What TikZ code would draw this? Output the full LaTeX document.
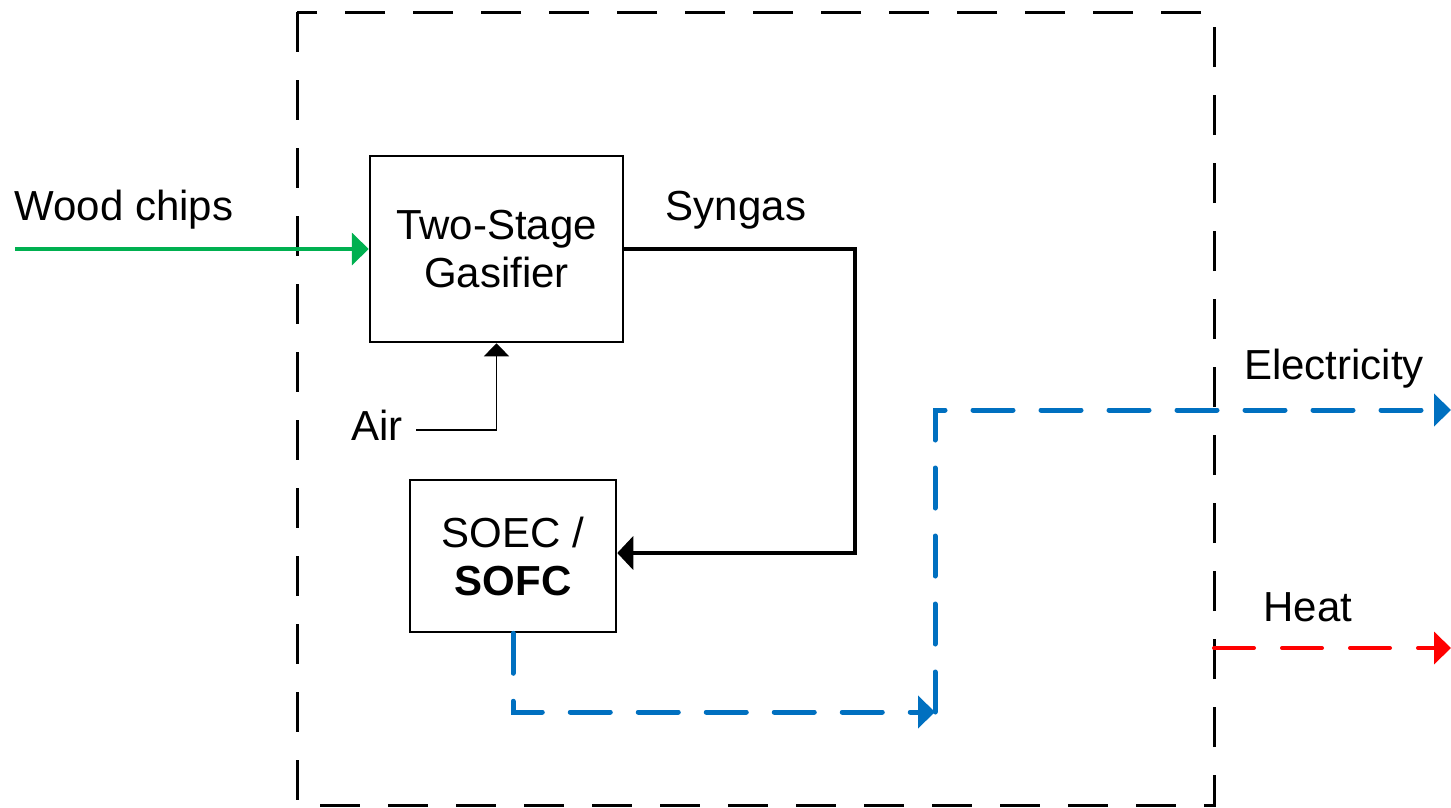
\documentclass[tikz,border=0pt]{standalone}
\usepackage{fontspec}
\setmainfont{Liberation Sans}
\usetikzlibrary{arrows.meta}
\definecolor{cgreen}{HTML}{00B050}
\definecolor{cblue}{HTML}{0070C0}
\definecolor{cred}{HTML}{FF0000}
\begin{document}
\begin{tikzpicture}[x=1pt,y=-1pt,
  every node/.style={font=\fontsize{42pt}{50pt}\selectfont, inner sep=0pt},
  procbox/.style={draw, line width=2.5pt, align=center},
  lbl/.style={anchor=center},
  boundary/.style={draw, line width=3pt, dash pattern=on 40pt off 28pt},
  woodflow/.style={draw=cgreen, line width=4pt, -{Triangle[length=17pt,width=32pt]}},
  synflow/.style={draw=black, line width=4pt, -{Triangle[length=16pt,width=33pt]}},
  airflow/.style={draw=black, line width=1.3pt, -{Triangle[length=13pt,width=25pt]}},
  elecflow/.style={draw=cblue, line width=5pt, line cap=round, dash pattern=on 40pt off 28pt, -{Triangle[length=17pt,width=32pt]}},
  heatflow/.style={draw=cred, line width=4pt, line cap=round, dash pattern=on 40pt off 28pt, -{Triangle[length=17pt,width=32pt]}}
]
\useasboundingbox (0,0) rectangle (1451,807);
\fill[white] (0,0) rectangle (1451,807);
% system boundary
\draw[boundary] (297,12) rectangle (1214,805);
% process boxes
\node[procbox, minimum width=253pt, minimum height=186pt] (gas) at (496.5,249) {Two-Stage\\[-2pt]Gasifier};
\node[procbox, minimum width=206pt, minimum height=152pt] (sofc) at (513,556) {SOEC /\\[-2pt]\textbf{SOFC}};
% labels
\node[lbl] (wood) at (124,210) {Wood chips};
\node[lbl] (syn) at (736,210) {Syngas};
\node[lbl] (air) at (377,425) {Air};
\node[lbl] (elec) at (1334,369) {Electricity};
\node[lbl] (heat) at (1308,607) {Heat};
% coordinates
\coordinate (w0) at (15,249);
\coordinate (s1) at (855,249);
\coordinate (s2) at (855,553);
\coordinate (a0) at (416,430);
\coordinate (b1) at (935,712);
\coordinate (b2) at (935,410);
\coordinate (e1) at (1451,410);
\coordinate (h0) at (1214,648);
\coordinate (h1) at (1451,648);
% flows
\draw[woodflow] (w0) -- (gas.west);
\draw[synflow] (gas.east |- s1) -- (s1) -- (s2) -- (sofc.east |- s2);
\draw[airflow] (a0) -| (gas.south);
\draw[elecflow] (sofc.south) |- (b1);
\draw[elecflow] (b1) -- (b2) -- (e1);
\draw[heatflow] (h0) -- (h1);
\end{tikzpicture}
\end{document}
